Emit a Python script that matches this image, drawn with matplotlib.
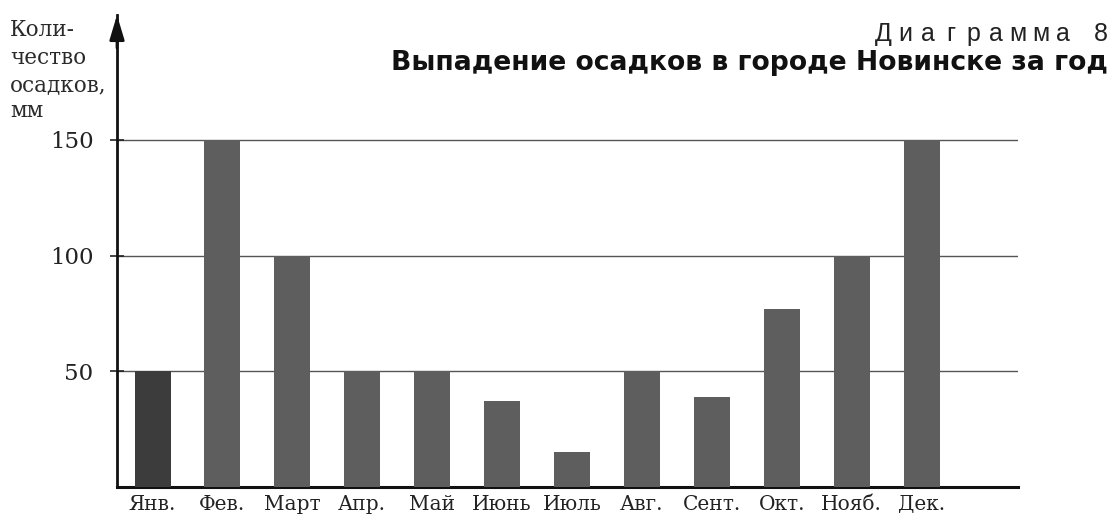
import matplotlib
matplotlib.use("Agg")
import matplotlib.pyplot as plt

months = ["Янв.", "Фев.", "Март", "Апр.", "Май", "Июнь", "Июль", "Авг.", "Сент.", "Окт.", "Нояб.", "Дек."]
precip = [50, 150, 100, 50, 50, 37, 15, 50, 39, 77, 100, 150]
yticks = [50, 100, 150]
ylabel_lines = ["Коли-", "чество", "осадков,", "мм"]
caption = "Диаграмма 8"
title = "Выпадение осадков в городе Новинске за год"

W, H = 1114, 519
fig = plt.figure(figsize=(W / 100, H / 100), dpi=100)
fig.patch.set_facecolor("white")

ax = fig.add_axes([117 / W, 32 / H, 901 / W, 472 / H])
x = list(range(len(months)))
colors = ["#3c3c3c"] + ["#5e5e5e"] * (len(months) - 1)
ax.bar(x, precip, width=0.515, color=colors, zorder=3)

ax.set_xlim(-0.508, 12.38)
ax.set_ylim(0, 204)
ax.set_yticks(yticks)
ax.set_yticklabels([str(v) for v in yticks], fontfamily="DejaVu Serif", fontsize=16.5, color="#222222")
ax.set_xticks(x)
ax.set_xticklabels(months, fontfamily="DejaVu Serif", fontsize=14.5, color="#222222")
ax.tick_params(axis="x", length=0, pad=6)
ax.tick_params(axis="y", direction="inout", length=10, width=1.2, pad=12, color="#222222")
ax.yaxis.grid(True, color="#555555", linewidth=1.0, zorder=1)
ax.xaxis.grid(False)

for s in ["top", "right"]:
    ax.spines[s].set_visible(False)
ax.spines["left"].set_linewidth(2)
ax.spines["bottom"].set_linewidth(2.2)
ax.spines["left"].set_color("#111111")
ax.spines["bottom"].set_color("#111111")

# arrow head on the y axis
ax.annotate("", xy=(0, 1.0), xycoords="axes fraction",
            xytext=(0, 0.93), textcoords="axes fraction",
            arrowprops=dict(arrowstyle="-|>,head_length=1.5,head_width=0.45",
                            color="#111111", lw=2, shrinkA=0, shrinkB=0))

# y-axis label (stacked lines)
baselines = [36, 64, 91, 117]
for line, b in zip(ylabel_lines, baselines):
    fig.text(10 / W, 1 - b / H, line, fontfamily="DejaVu Serif",
             fontsize=15.5, color="#2a2a2a", ha="left", va="baseline")

# caption with letter spacing, right aligned
right_px = 1108
spacing = 22.5
n = len(caption)
for i, ch in enumerate(caption):
    px = right_px - (n - 1 - i) * spacing
    fig.text(px / W, 1 - 41 / H, ch, fontfamily="Liberation Sans", fontsize=18,
             color="#222222", ha="right" if i == n - 1 else "center", va="baseline")

fig.text(1108 / W, 1 - 63 / H, title, fontfamily="DejaVu Sans", fontweight="bold",
         fontsize=19.2, color="#111111", ha="right", va="center")

fig.savefig("out.png", dpi=100, facecolor="white")
